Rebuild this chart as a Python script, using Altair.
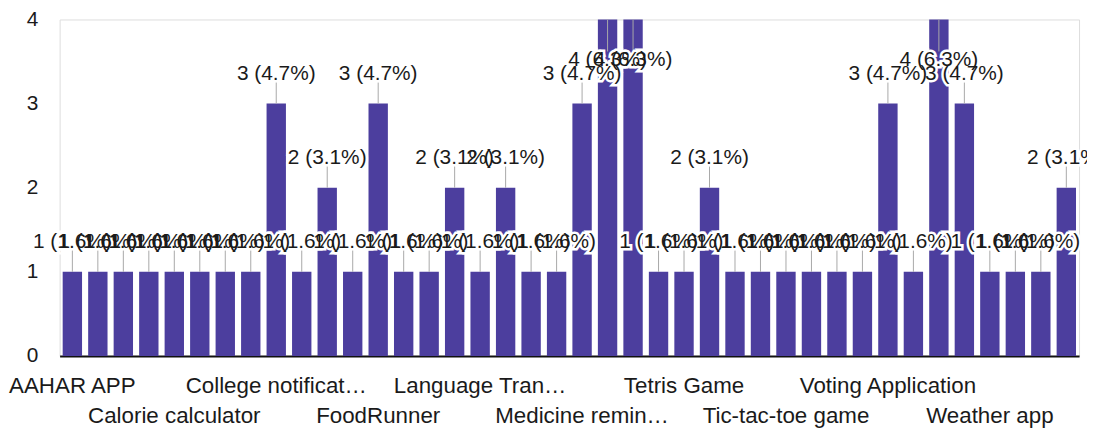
import altair as alt
import pandas as pd

# 40 response categories in alphabetical order (only every 4th label is shown on the axis)
categories = [
    "AAHAR APP", "Alarm clock", "BMI calculator", "Calculator",
    "Calorie calculator", "Chat application", "Chess game", "Coin toss app",
    "College notification app", "Currency converter", "Expense tracker", "Flappy bird",
    "FoodRunner", "Grocery list", "Hangman game", "Health tracker",
    "Language Translator", "Library management", "Login page", "Meal planner",
    "Medicine reminder", "Music player", "Notes app", "Snake game",
    "Tetris Game", "Text editor", "Text to speech", "Thesaurus app",
    "Tic-tac-toe game", "To-do list", "Unit converter", "Video player",
    "Voting Application", "Wallet app", "Water reminder", "Weather alert",
    "Weather app", "Web browser", "Word game", "YouTube clone",
]
values = [1, 1, 1, 1, 1, 1, 1, 1, 3, 1, 2, 1, 3, 1, 1, 2, 1, 2, 1, 1,
          3, 4, 4, 1, 1, 2, 1, 1, 1, 1, 1, 1, 3, 1, 4, 3, 1, 1, 1, 2]
# visible tick labels (as displayed) and their row (1 = upper, 2 = lower)
tick_text = ["AAHAR APP", "", "", "", "Calorie calculator", "", "", "",
             "College notificat\u2026", "", "", "", "FoodRunner", "", "", "",
             "Language Tran\u2026", "", "", "", "Medicine remin\u2026", "", "", "",
             "Tetris Game", "", "", "", "Tic-tac-toe game", "", "", "",
             "Voting Application", "", "", "", "Weather app", "", "", ""]
tick_row = [1, 0, 0, 0, 2, 0, 0, 0, 1, 0, 0, 0, 2, 0, 0, 0, 1, 0, 0, 0,
            2, 0, 0, 0, 1, 0, 0, 0, 2, 0, 0, 0, 1, 0, 0, 0, 2, 0, 0, 0]

total = sum(values)
W, H = 1027, 339
FONT = "Liberation Sans"
BAR = "#4c3e9e"

df = pd.DataFrame({"app": categories, "n": values, "tick": tick_text, "row": tick_row})

base = alt.Chart(df).transform_calculate(
    pct=f"format(datum.n / {total}, '.1%')",
    lab="datum.n + ' (' + datum.pct + ')'",
    ly="min(datum.n + 0.35, 3.52)",
    le="datum.n + 0.35 <= 3.52 ? datum.n + 0.26 : 3.62",
)

x = alt.X("app:N", sort=categories,
          scale=alt.Scale(paddingInner=0.24, paddingOuter=0.12),
          axis=alt.Axis(labels=False, ticks=False, title=None,
                        domainColor="#111111", domainWidth=2))
y_axis = alt.Axis(values=[0, 1, 2, 3, 4], title=None, grid=False, domain=False,
                  ticks=False, tickSize=0, labelPadding=22, labelFontSize=21,
                  labelFont=FONT, labelColor="#1a1a1a", format="d")
y_scale = alt.Scale(domain=[0, 4], nice=False)

bars = base.mark_bar(color=BAR).encode(
    x=x, y=alt.Y("n:Q", scale=y_scale, axis=y_axis))
rules = base.mark_rule(color="#a8a8a8", strokeWidth=1).encode(
    x=x, y=alt.Y("n:Q", scale=y_scale, axis=y_axis), y2="le:Q")
halo = base.mark_text(font=FONT, fontSize=21, baseline="middle", color="white",
                      stroke="white", strokeWidth=5).encode(
    x=x, y=alt.Y("ly:Q", scale=y_scale, axis=y_axis), text="lab:N")
labels = base.mark_text(font=FONT, fontSize=21, baseline="middle", color="#1a1a1a").encode(
    x=x, y=alt.Y("ly:Q", scale=y_scale, axis=y_axis), text="lab:N")
tick1 = base.transform_filter("datum.row == 1").mark_text(
    font=FONT, fontSize=22.5, baseline="middle", color="#1a1a1a").encode(
    x=x, y=alt.value(H + 30), text="tick:N")
tick2 = base.transform_filter("datum.row == 2").mark_text(
    font=FONT, fontSize=22.5, baseline="middle", color="#1a1a1a").encode(
    x=x, y=alt.value(H + 61), text="tick:N")

chart = alt.layer(bars, rules, halo, labels, tick1, tick2).properties(
    width=W, height=H,
    autosize=alt.AutoSizeParams(type="none"),
    padding={"left": 52, "top": 10, "right": 8, "bottom": 75},
).configure_view(stroke=None).configure(background="white")

chart.save("out.html", embed_options={"renderer": "svg", "actions": False})
